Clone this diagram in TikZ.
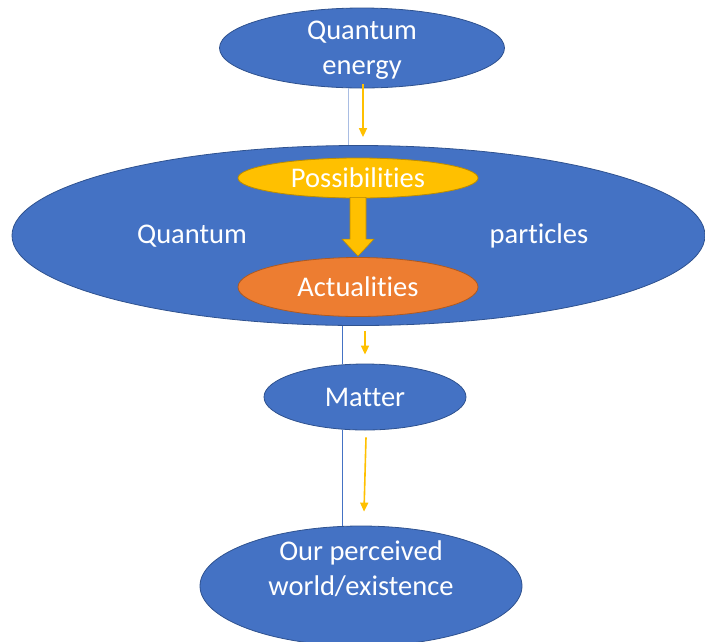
\documentclass[tikz,border=0pt]{standalone}
\usepackage{fontspec}
\setmainfont{Carlito}[RawFeature={-liga;-clig}]
\usetikzlibrary{shapes.geometric,arrows.meta,calc}
\definecolor{qblue}{HTML}{4472C4}
\definecolor{qblueedge}{HTML}{2F528F}
\definecolor{qgold}{HTML}{FFC000}
\definecolor{qgoldedge}{HTML}{BC8C00}
\definecolor{qorange}{HTML}{ED7D31}
\definecolor{qorangeedge}{HTML}{AE5A21}
\definecolor{qlight}{HTML}{A9BDE3}
\begin{document}
\begin{tikzpicture}[x=1pt,y=-1pt,
  bluell/.style={ellipse,draw=qblueedge,line width=0.8pt,fill=qblue,inner sep=0pt},
  txt/.style={text=white,font=\fontsize{28.5}{35}\selectfont,align=center,inner sep=0pt},
  oarrow/.style={draw=qgold,line width=1.6pt,-{Triangle[width=8pt,length=9pt]}},
  linkline/.style={draw=qblue,line width=0.7pt}]
\useasboundingbox (0,0) rectangle (705,641);
% shapes
\node[bluell,minimum width=285pt,minimum height=80pt] (top) at (362,48) {};
\node[txt] (toptxt) at (362,50) {Quantum\\energy};
\node[bluell,minimum width=693pt,minimum height=180pt] (qp) at (358.5,235.5) {};
\node[txt] (qleft) at (192,236) {Quantum};
\node[txt] (qright) at (539,236) {particles};
\node[ellipse,draw=qgoldedge,line width=0.8pt,fill=qgold,inner sep=0pt,minimum width=240pt,minimum height=40pt] (poss) at (358,178) {};
\node[txt] (posstxt) at (358,178) {Possibilities};
\node[ellipse,draw=qorangeedge,line width=0.8pt,fill=qorange,inner sep=0pt,minimum width=240pt,minimum height=59pt] (act) at (358,287) {};
\node[txt] (acttxt) at (358,287) {Actualities};
\node[bluell,minimum width=202pt,minimum height=66pt] (matter) at (365,397) {};
\node[txt] (mattertxt) at (365,397) {Matter};
\node[bluell,minimum width=322pt,minimum height=120pt] (bottom) at (361,586) {};
\node[txt] (bottomtxt) at (361,569) {Our perceived\\world/existence};
% block arrow
\draw[draw=qgoldedge,line width=0.6pt,fill=qgold]
  ($(poss.south)+(-8,-1)$) -- ($(poss.south)+(8,-1)$) -- ($(act.north)+(8,-18)$)
  -- ($(act.north)+(16,-18)$) -- ($(act.north)+(0,-1)$) -- ($(act.north)+(-16,-18)$)
  -- ($(act.north)+(-8,-18)$) -- cycle;
% thin link lines
\draw[draw=qlight,line width=0.9pt] ([xshift=-14pt]top.south) -- ([xshift=-10.5pt]qp.north);
\draw[linkline] ([xshift=-16.5pt]qp.south) -- ([xshift=-23pt]matter.north);
\draw[linkline] ([xshift=-23pt]matter.south) -- ([xshift=-19pt]bottom.north);
% orange arrows
\draw[oarrow] ([xshift=1pt,yshift=4pt]top.south) -- ([xshift=4.5pt,yshift=8pt]qp.north);
\draw[oarrow] ([xshift=6.5pt,yshift=-5pt]qp.south) -- ([yshift=9pt]matter.north);
\draw[oarrow] ([xshift=1pt,yshift=-7pt]matter.south) -- ([xshift=3pt,yshift=14pt]bottom.north);
\end{tikzpicture}
\end{document}
